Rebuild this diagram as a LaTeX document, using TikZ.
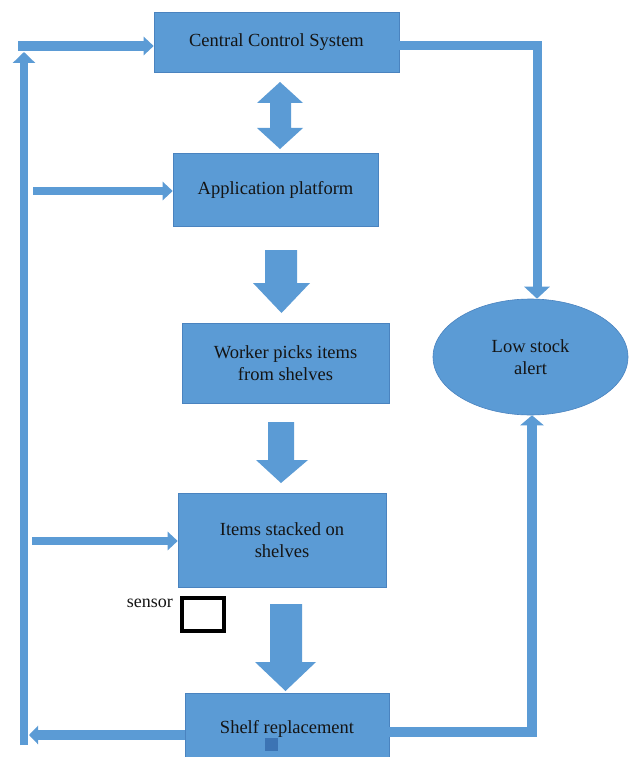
\documentclass[tikz,border=0pt]{standalone}
\usepackage{fontspec}
\setmainfont{Liberation Serif}
\usetikzlibrary{arrows.meta,shapes.geometric}
\definecolor{boxblue}{HTML}{5B9BD5}
\definecolor{edgeblue}{HTML}{4A83BF}
\definecolor{markblue}{HTML}{3C74B4}
\definecolor{ink}{HTML}{141414}
\tikzset{
  stepbox/.style={rectangle, fill=boxblue, draw=edgeblue, line width=0.6pt,
    inner sep=0pt, align=center, text=ink,
    font=\fontsize{18.5}{22.5}\selectfont},
  alertshape/.style={ellipse, fill=boxblue, draw=edgeblue, line width=0.6pt,
    inner sep=0pt, align=center, text=ink,
    font=\fontsize{18.5}{22.5}\selectfont},
  flow/.style={draw=boxblue, line width=#1, line join=miter},
  flow/.default=9pt,
  blockarrow/.style={fill=boxblue},
}
\begin{document}
\begin{tikzpicture}[x=1pt, y=-1pt]
\clip (0,0) rectangle (630,757);
\fill[white] (0,0) rectangle (630,757);

% process boxes
\node[stepbox, minimum width=245pt, minimum height=60pt] (ccs) at (276.5,42) {Central Control System};
\node[stepbox, minimum width=205pt, minimum height=73pt] (app) at (275.5,189.5) {Application platform};
\node[stepbox, minimum width=207pt, minimum height=80pt] (worker) at (285.5,363) {Worker picks items\\from shelves};
\node[stepbox, minimum width=208pt, minimum height=94pt] (items) at (282,540) {Items stacked on\\shelves};
\node[stepbox, minimum width=204pt, minimum height=71pt] (shelf) at (287,728.5) {Shelf replacement};
\node[alertshape, minimum width=195pt, minimum height=116pt] (alert) at (530.5,357) {Low stock\\alert};

% sensor marker
\node[anchor=east, text=ink, font=\fontsize{18}{20}\selectfont, inner sep=0pt] (sensorlabel) at (173,603) {sensor};
\node[draw=black, fill=white, line width=4pt, minimum width=42pt, minimum height=33pt, inner sep=0pt] (sensor) at (203,614.5) {};
\fill[markblue] (265,738) rectangle (278,751);

% block arrows between the stages
\fill[blockarrow] (280,82) -- (303,103) -- (291,103) -- (291,128) -- (303,128) -- (280,149)
  -- (257,128) -- (270,128) -- (270,103) -- (257,103) -- cycle;
\fill[blockarrow] (265,250) -- (297,250) -- (297,283) -- (310,283) -- (281.5,313)
  -- (253,283) -- (265,283) -- cycle;
\fill[blockarrow] (268,422) -- (294,422) -- (294,460) -- (308,460) -- (281,483)
  -- (256,460) -- (268,460) -- cycle;
\fill[blockarrow] (270,604) -- (302,604) -- (302,662) -- (316,662) -- (285.5,691)
  -- (255,662) -- (270,662) -- cycle;

% feedback loop coordinates
\coordinate (tl) at (18,46);
\coordinate (lb) at (24,745);
\coordinate (lt) at (24,52);
\coordinate (a1) at (33,191);
\coordinate (a2) at (32,541);
\coordinate (sl) at (29,735);
\coordinate (rt) at (537,46);
\coordinate (rb) at (532,732);

% left feedback line and its branches
\draw[flow=8pt, -{Triangle[width=22pt,length=11pt]}] (lb) -- (lt);
\draw[flow=9.5pt, -{Triangle[width=18pt,length=10pt]}] (tl) -- (ccs.west |- tl);
\draw[flow=8.5pt, -{Triangle[width=18pt,length=10pt]}] (a1) -- (app.west |- a1);
\draw[flow=8.5pt, -{Triangle[width=18pt,length=10pt]}] (a2) -- (items.west |- a2);
\draw[flow=10pt, -{Triangle[width=18pt,length=9pt]}] (shelf.west |- sl) -- (sl);

% right side: alert path
\draw[flow=9pt, -{Triangle[width=25pt,length=12pt]}] (ccs.east |- rt) -- (rt) -- (rt |- alert.north);
\draw[flow=10pt, -{Triangle[width=23pt,length=10pt]}] (shelf.east |- rb) -- (rb) -- (rb |- alert.south);
\end{tikzpicture}
\end{document}
